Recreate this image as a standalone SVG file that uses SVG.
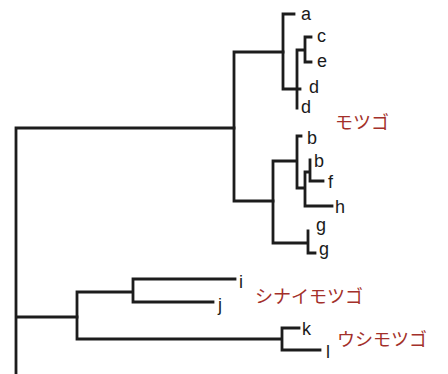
<svg xmlns="http://www.w3.org/2000/svg" width="448" height="374" viewBox="0 0 448 374">
<style>
.br{fill:none;stroke:#1c1c1c;stroke-width:2.8;stroke-linecap:square;stroke-linejoin:miter}
.lf{font-family:"Liberation Sans",Arial,sans-serif;font-size:18px;fill:#1a1a1a}
.sp{font-family:"Noto Sans CJK JP","Noto Sans CJK SC",sans-serif;font-size:18px;fill:#a3302a}
</style>
<rect width="448" height="374" fill="#ffffff"/>
<g id="connectors">
<path class="br" d="M16,374 V128 H234 M16,317 H77"/>
<path class="br" d="M283,52 H234 V201 H273"/>
<path class="br" d="M294,14 H283 V89 H300 M297,89 V108 M297,50 V89 M297,50 H305 M311,37 H305 V62 H311"/>
<path class="br" d="M297,161 H273 V243 H308 M301,136 H297 V188 H305 M305,172 V206 H332 M305,172 H310 M310,160 V181 H323 M308,231 V253 H315"/>
<path class="br" d="M133,292 H77 V339 H282 M235,279 H133 V302 H213 M299,328 H282 V350 H320"/>
</g>
<g id="leaf-a"><text class="lf" x="301" y="20">a</text></g>
<g id="leaf-c"><text class="lf" x="317" y="42">c</text></g>
<g id="leaf-e"><text class="lf" x="317" y="67">e</text></g>
<g id="leaf-d1"><text class="lf" x="309" y="93">d</text></g>
<g id="leaf-d2"><text class="lf" x="301" y="113">d</text></g>
<g id="leaf-b1"><text class="lf" x="307" y="144">b</text></g>
<g id="leaf-b2"><text class="lf" x="314" y="167">b</text></g>
<g id="leaf-f"><text class="lf" x="328" y="188">f</text></g>
<g id="leaf-h"><text class="lf" x="335" y="213">h</text></g>
<g id="leaf-g1"><text class="lf" x="316" y="231">g</text></g>
<g id="leaf-g2"><text class="lf" x="319" y="255">g</text></g>
<g id="leaf-i"><text class="lf" x="239" y="288">i</text></g>
<g id="leaf-j"><text class="lf" x="218" y="311">j</text></g>
<g id="leaf-k"><text class="lf" x="302" y="335">k</text></g>
<g id="leaf-l"><text class="lf" x="326" y="358">l</text></g>
<g id="label-motsugo"><text class="sp" x="335" y="129">モツゴ</text></g>
<g id="label-shinai"><text class="sp" x="255" y="303">シナイモツゴ</text></g>
<g id="label-ushi"><text class="sp" x="337" y="346">ウシモツゴ</text></g>
</svg>
